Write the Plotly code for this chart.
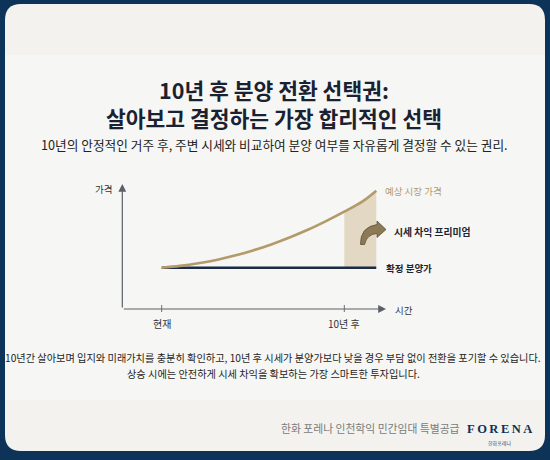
import plotly.graph_objects as go

# ---------------- data ----------------
years = [0, 1, 2, 3, 4, 5, 6, 7, 8, 9, 10, 11, 11.75]
market_price = [100, 101.8, 104.4, 107.8, 112.1, 117.3, 123.3, 130.2, 137.9, 146.6, 156, 166.3, 177]
sale_price = [100, 100, 100, 100, 100, 100, 100, 100, 100, 100, 100, 100, 100]
premium_start = 10
tick_vals = [0, 10]
tick_labels = ["현재", "10년 후"]

title1 = "10년 후 분양 전환 선택권:"
title2 = "살아보고 결정하는 가장 합리적인 선택"
subtitle = "10년의 안정적인 거주 후, 주변 시세와 비교하여 분양 여부를 자유롭게 결정할 수 있는 권리."
note1 = "10년간 살아보며 입지와 미래가치를 충분히 확인하고, 10년 후 시세가 분양가보다 낮을 경우 부담 없이 전환을 포기할 수 있습니다."
note2 = "상승 시에는 안전하게 시세 차익을 확보하는 가장 스마트한 투자입니다."
footer = "한화 포레나 인천학익 민간임대 특별공급"
brand = "F\u2009O\u2009R\u2009E\u2009N\u2009A"
brand_sub = "한화포레나"
label_market = "예상 시장 가격"
label_premium = "시세 차익 프리미엄"
label_sale = "확정 분양가"
axis_y_label = "가격"
axis_x_label = "시간"

# ---------------- layout geometry ----------------
W, H = 550, 460
ML, MR, MT, MB = 100, 130, 170, 120
X0PX, XS = 161.7, 18.26      # pixel of year 0, pixels per year
Y100PX, YS = 267.7, 1.0      # pixel of price 100, pixels per unit

def dx(px):
    return (px - X0PX) / XS

def dy(py):
    return 100 + (Y100PX - py) / YS

def ppx(px):
    return (px - ML) / (W - ML - MR)

def ppy(py):
    return (H - MB - py) / (H - MT - MB)

NAVY = "#0d3358"
GOLD = "#b39a6b"
DARK = "#1c2433"

fig = go.Figure()

# premium shaded area
sx = [x for x in years if x >= premium_start]
sy = [y for x, y in zip(years, market_price) if x >= premium_start]
fig.add_trace(go.Scatter(
    x=sx + sx[::-1], y=sy + [sale_price[0]] * len(sx),
    fill="toself", fillcolor="#e2d8c3", line=dict(width=0),
    mode="lines", hoverinfo="skip", showlegend=False))

# fixed sale price
fig.add_trace(go.Scatter(x=years, y=sale_price, mode="lines",
                         line=dict(color="#1b2a45", width=2.6), showlegend=False))
# expected market price
fig.add_trace(go.Scatter(x=years, y=market_price, mode="lines", line_shape="spline",
                         line=dict(color=GOLD, width=2.6), showlegend=False))

shapes = []
# background panel (rounded) and band
def rrect(x0, y0, x1, y1, r):
    X = ppx; Y = ppy
    return (f"M {X(x0+r)},{Y(y0)} L {X(x1-r)},{Y(y0)} Q {X(x1)},{Y(y0)} {X(x1)},{Y(y0+r)} "
            f"L {X(x1)},{Y(y1-r)} Q {X(x1)},{Y(y1)} {X(x1-r)},{Y(y1)} "
            f"L {X(x0+r)},{Y(y1)} Q {X(x0)},{Y(y1)} {X(x0)},{Y(y1-r)} "
            f"L {X(x0)},{Y(y0+r)} Q {X(x0)},{Y(y0)} {X(x0+r)},{Y(y0)} Z")

shapes.append(dict(type="path", xref="paper", yref="paper", layer="below",
                   path=rrect(5, 4, 545, 451, 16), fillcolor="#f3f2ee", line=dict(width=0)))
shapes.append(dict(type="rect", xref="paper", yref="paper", layer="below",
                   x0=ppx(5), x1=ppx(545), y0=ppy(400), y1=ppy(55),
                   fillcolor="#f6f6f4", line=dict(width=0)))

# tick marks
for t in tick_vals:
    shapes.append(dict(type="line", xref="x", yref="y", x0=t, x1=t, y0=dy(305), y1=dy(312),
                       line=dict(color="#6a6f78", width=1)))

# curved premium arrow
def P(px, py):
    return f"{dx(px)},{dy(py)}"
arrow_path = (f"M {P(360.5,244.5)} Q {P(360,227)} {P(377,224.5)} L {P(377,221)} "
              f"L {P(386,229.5)} L {P(377,237.5)} L {P(377,233.5)} "
              f"Q {P(367,234)} {P(364.5,244.5)} Z")
shapes.append(dict(type="path", xref="x", yref="y", path=arrow_path,
                   fillcolor="#8b7a55", line=dict(color="#5e5238", width=0.8)))

annotations = []
AX_X, AX_Y = dx(122.3), dy(309)
# axes with arrowheads
annotations.append(dict(x=AX_X, y=dy(184), ax=AX_X, ay=AX_Y, xref="x", yref="y", axref="x", ayref="y",
                        text="", showarrow=True, arrowhead=2, arrowsize=1.3, arrowwidth=1.2,
                        arrowcolor="#5a5f68"))
annotations.append(dict(x=dx(386), y=AX_Y, ax=AX_X, ay=AX_Y, xref="x", yref="y", axref="x", ayref="y",
                        text="", showarrow=True, arrowhead=2, arrowsize=1.3, arrowwidth=1.2,
                        arrowcolor="#5a5f68"))

def txt(text, px, py, size, color, xanchor="center", bold=False, family="Noto Sans CJK KR"):
    return dict(x=ppx(px), y=ppy(py), xref="paper", yref="paper", text=(f"<b>{text}</b>" if bold else text),
                showarrow=False, xanchor=xanchor, yanchor="middle",
                font=dict(size=size, color=color, family=family))

# tick labels
for t, lab in zip(tick_vals, tick_labels):
    annotations.append(dict(x=t, y=dy(323), xref="x", yref="y", text=lab, showarrow=False,
                            xanchor="center", yanchor="middle",
                            font=dict(size=10, color="#333333", family="Noto Sans CJK KR")))

annotations += [
    txt(f"<b>{title1}</b><br><b>{title2}</b>", 274, 103.5, 21.5, "#1a2130"),
    txt(subtitle, 274, 144.5, 12.7, "#222222"),
    txt(axis_y_label, 114, 188.5, 9.5, "#333333", xanchor="right"),
    txt(axis_x_label, 393, 309.5, 9.5, "#333333", xanchor="left"),
    txt(label_market, 382.5, 191, 9.5, GOLD, xanchor="left"),
    txt(label_premium, 391.5, 232, 9.8, DARK, xanchor="left", bold=True),
    txt(label_sale, 383.5, 268, 9.5, DARK, xanchor="left", bold=True),
    txt(note1, 273, 357, 10.2, "#1e1e1e"),
    txt(note2, 273, 373.5, 10.2, "#1e1e1e"),
    txt(footer, 462, 428, 10.8, "#7a7a7a", xanchor="right"),
    txt(brand, 499, 429, 12.5, NAVY, bold=True, family="Liberation Serif"),
    txt(brand_sub, 499, 442.5, 5, "#3a4a63"),
]

fig.update_layout(
    width=W, height=H,
    margin=dict(l=ML, r=MR, t=MT, b=MB, pad=0),
    paper_bgcolor=NAVY, plot_bgcolor="rgba(0,0,0,0)",
    xaxis=dict(range=[dx(ML), dx(W - MR)], visible=False, fixedrange=True),
    yaxis=dict(range=[dy(H - MB), dy(MT)], visible=False, fixedrange=True),
    shapes=shapes, annotations=annotations, showlegend=False,
)

fig.write_html("out.html", config=dict(displayModeBar=False),
               post_script="document.body.style.margin='0';document.body.style.overflow='hidden';")
